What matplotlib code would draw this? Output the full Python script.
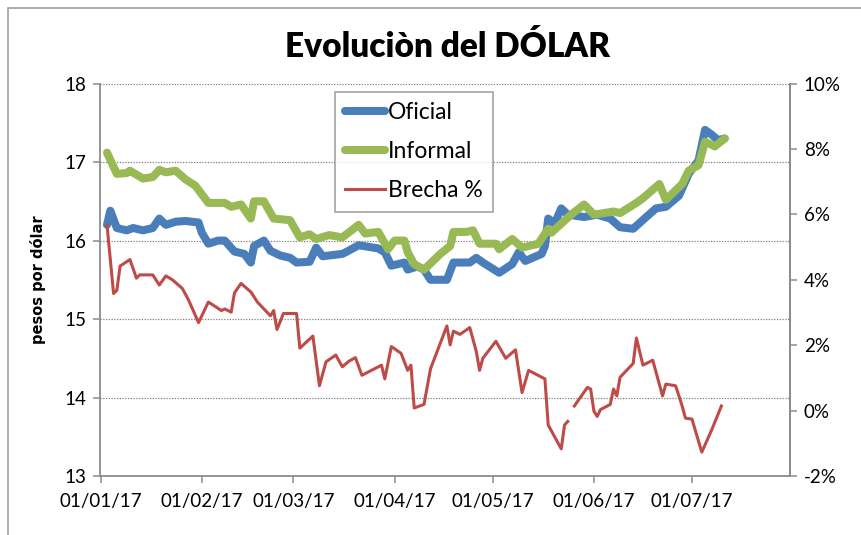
import matplotlib
matplotlib.use("Agg")
import matplotlib.pyplot as plt
import matplotlib.dates as mdates
from matplotlib.patches import Rectangle
import pandas as pd
import numpy as np

# ---------------- data ----------------
oficial_dates = ["2017-01-03", "2017-01-04", "2017-01-06", "2017-01-09", "2017-01-11", "2017-01-14",
                 "2017-01-17", "2017-01-19", "2017-01-21", "2017-01-24", "2017-01-27", "2017-01-31",
                 "2017-02-01", "2017-02-03", "2017-02-06", "2017-02-08", "2017-02-11", "2017-02-14",
                 "2017-02-16", "2017-02-17", "2017-02-20", "2017-02-22", "2017-02-25", "2017-02-28",
                 "2017-03-02", "2017-03-06", "2017-03-08", "2017-03-10", "2017-03-16", "2017-03-17",
                 "2017-03-21", "2017-03-27", "2017-03-29", "2017-03-31", "2017-04-04", "2017-04-05",
                 "2017-04-08", "2017-04-10", "2017-04-12", "2017-04-17", "2017-04-19", "2017-04-24",
                 "2017-04-26", "2017-04-28", "2017-05-03", "2017-05-07", "2017-05-09", "2017-05-11",
                 "2017-05-16", "2017-05-17", "2017-05-18", "2017-05-20", "2017-05-22", "2017-05-24",
                 "2017-05-29", "2017-06-02", "2017-06-06", "2017-06-09", "2017-06-13", "2017-06-17",
                 "2017-06-20", "2017-06-23", "2017-06-27", "2017-06-30", "2017-07-03", "2017-07-05",
                 "2017-07-07", "2017-07-09", "2017-07-11"]
oficial = [16.20, 16.38, 16.16, 16.13, 16.16, 16.13,
           16.16, 16.28, 16.20, 16.24, 16.25, 16.23,
           16.10, 15.96, 16.00, 16.00, 15.86, 15.83,
           15.72, 15.93, 16.00, 15.87, 15.81, 15.78,
           15.72, 15.73, 15.91, 15.80, 15.83, 15.85,
           15.94, 15.90, 15.85, 15.68, 15.72, 15.63,
           15.67, 15.63, 15.50, 15.50, 15.72, 15.72,
           15.78, 15.72, 15.59, 15.70, 15.85, 15.74,
           15.83, 15.93, 16.28, 16.22, 16.41, 16.33,
           16.30, 16.33, 16.28, 16.17, 16.15, 16.30,
           16.41, 16.43, 16.57, 16.85, 17.02, 17.41,
           17.35, 17.28, 17.30]

informal_dates = ["2017-01-03", "2017-01-06", "2017-01-09", "2017-01-10", "2017-01-14", "2017-01-17",
                  "2017-01-19", "2017-01-21", "2017-01-24", "2017-01-27", "2017-01-30", "2017-02-01",
                  "2017-02-03", "2017-02-08", "2017-02-10", "2017-02-13", "2017-02-16", "2017-02-17",
                  "2017-02-20", "2017-02-23", "2017-02-28", "2017-03-03", "2017-03-06", "2017-03-08",
                  "2017-03-12", "2017-03-16", "2017-03-21", "2017-03-23", "2017-03-27", "2017-03-30",
                  "2017-04-01", "2017-04-04", "2017-04-05", "2017-04-07", "2017-04-10", "2017-04-15",
                  "2017-04-18", "2017-04-19", "2017-04-23", "2017-04-25", "2017-04-27", "2017-05-02",
                  "2017-05-03", "2017-05-07", "2017-05-10", "2017-05-15", "2017-05-18", "2017-05-19",
                  "2017-05-25", "2017-05-29", "2017-06-01", "2017-06-07", "2017-06-09", "2017-06-14",
                  "2017-06-16", "2017-06-21", "2017-06-23", "2017-06-28", "2017-06-30", "2017-07-03",
                  "2017-07-05", "2017-07-08", "2017-07-11"]
informal = [17.12, 16.85, 16.86, 16.89, 16.79, 16.81,
            16.90, 16.87, 16.89, 16.78, 16.70, 16.59,
            16.48, 16.48, 16.43, 16.46, 16.28, 16.50,
            16.50, 16.28, 16.26, 16.04, 16.08, 16.02,
            16.07, 16.04, 16.20, 16.09, 16.11, 15.89,
            16.00, 16.00, 15.85, 15.70, 15.63, 15.83,
            15.93, 16.11, 16.11, 16.13, 15.96, 15.96,
            15.89, 16.02, 15.91, 15.96, 16.15, 16.10,
            16.33, 16.46, 16.33, 16.37, 16.35, 16.48,
            16.54, 16.72, 16.52, 16.72, 16.89, 16.96,
            17.26, 17.20, 17.30]

brecha_dates = ["2017-01-03", "2017-01-05", "2017-01-06", "2017-01-07", "2017-01-10", "2017-01-12",
                "2017-01-13", "2017-01-17", "2017-01-19", "2017-01-21", "2017-01-23", "2017-01-26",
                "2017-01-27", "2017-01-28", "2017-01-31", "2017-02-02", "2017-02-03", "2017-02-07",
                "2017-02-08", "2017-02-10", "2017-02-11", "2017-02-13", "2017-02-16", "2017-02-18",
                "2017-02-22", "2017-02-23", "2017-02-24", "2017-02-26", "2017-03-02", "2017-03-03",
                "2017-03-07", "2017-03-09", "2017-03-11", "2017-03-14", "2017-03-16", "2017-03-18",
                "2017-03-20", "2017-03-22", "2017-03-28", "2017-03-29", "2017-03-31", "2017-04-03",
                "2017-04-05", "2017-04-06", "2017-04-07", "2017-04-10", "2017-04-12", "2017-04-17",
                "2017-04-18", "2017-04-19", "2017-04-21", "2017-04-24", "2017-04-26", "2017-04-27",
                "2017-04-28", "2017-05-02", "2017-05-05", "2017-05-08", "2017-05-10", "2017-05-12",
                "2017-05-17", "2017-05-18", "2017-05-22", "2017-05-23", "2017-05-24", "2017-05-25",
                "2017-05-26", "2017-05-30", "2017-05-31", "2017-06-01", "2017-06-02", "2017-06-03",
                "2017-06-06", "2017-06-07", "2017-06-08", "2017-06-09", "2017-06-13", "2017-06-14",
                "2017-06-16", "2017-06-19", "2017-06-22", "2017-06-23", "2017-06-26", "2017-06-28",
                "2017-06-29", "2017-07-01", "2017-07-04", "2017-07-07", "2017-07-10"]
brecha = [5.67, 3.58, 3.68, 4.42, 4.62, 4.05,
          4.15, 4.15, 3.84, 4.12, 4.00, 3.74,
          3.56, 3.37, 2.69, 3.11, 3.32, 3.06,
          3.11, 3.01, 3.60, 3.89, 3.63, 3.32,
          2.90, 3.06, 2.48, 2.97, 2.97, 1.91,
          2.28, 0.76, 1.49, 1.70, 1.34, 1.51,
          1.62, 1.08, 1.39, 0.97, 1.96, 1.75,
          1.23, 1.39, 0.08, 0.19, 1.28, 2.59,
          2.01, 2.43, 2.33, 2.54, 1.81, 1.23,
          1.60, 2.12, 1.60, 1.86, 0.55, 1.23,
          0.97, -0.44, -1.17, -0.44, -0.33, np.nan,
          0.14, 0.71, 0.66, -0.02, -0.18, 0.03,
          0.19, 0.66, 0.45, 1.02, 1.44, 2.22,
          1.39, 1.54, 0.45, 0.81, 0.76, 0.14,
          -0.23, -0.26, -1.27, -0.60, 0.14]

x_ticks = ["2017-01-01", "2017-02-01", "2017-03-01", "2017-04-01", "2017-05-01", "2017-06-01", "2017-07-01"]
left_ticks = [13, 14, 15, 16, 17, 18]
right_ticks = [-2, 0, 2, 4, 6, 8, 10]

title = "Evoluciòn del DÓLAR"
ylabel = "pesos por dólar"
series_names = ["Oficial", "Informal", "Brecha %"]

# ---------------- style ----------------
W, H = 862, 535
FONT = ["Lato", "DejaVu Sans"]
plt.rcParams['font.family'] = FONT
BLUE = "#4A7EBB"
GREEN = "#98B954"
RED = "#BE4B48"
AXC = "#8C8C8C"

fig = plt.figure(figsize=(W / 100, H / 100), dpi=100)
L, R, T, B = 100.5, 790, 83.6, 476
ax = fig.add_axes([L / W, 1 - B / H, (R - L) / W, (B - T) / H])
ax2 = ax.twinx()

od = pd.to_datetime(oficial_dates)
idt = pd.to_datetime(informal_dates)
bd = pd.to_datetime(brecha_dates)

l1, = ax.plot(od, oficial, color=BLUE, lw=5.8, solid_capstyle="round", solid_joinstyle="round", zorder=3)
l2, = ax.plot(idt, informal, color=GREEN, lw=5.8, solid_capstyle="round", solid_joinstyle="round", zorder=4)
l3, = ax2.plot(bd, brecha, color=RED, lw=2.2, solid_joinstyle="round", zorder=3)

ax.set_ylim(13, 18)
ax2.set_ylim(-2, 10)
ax.set_xlim(pd.Timestamp("2017-01-01"), pd.Timestamp("2017-07-31"))
ax.set_yticks(left_ticks)
ax2.set_yticks(right_ticks)
ax2.set_yticklabels([f"{v}%" for v in right_ticks])
ax.set_xticks(pd.to_datetime(x_ticks))
ax.xaxis.set_major_formatter(mdates.DateFormatter("%d/%m/%y"))

ax.grid(axis="y", color="#7F7F7F", linestyle=(0, (1, 1.2)), lw=0.9)
ax.grid(axis="x", visible=False)
ax.set_axisbelow(True)

for a in (ax, ax2):
    a.spines["top"].set_visible(False)
    for s in ("left", "right", "bottom"):
        a.spines[s].set_color(AXC)
        a.spines[s].set_linewidth(1.3)
ax2.spines["left"].set_visible(False)
ax2.spines["bottom"].set_visible(False)

ax.tick_params(axis="both", direction="out", length=5, width=1.1, color=AXC,
               labelsize=13.5, labelcolor="black")
ax.tick_params(axis="x", pad=7)
ax.tick_params(axis="y", pad=5)
ax2.tick_params(axis="y", direction="out", length=5, width=1.1, color=AXC,
                labelsize=13.5, labelcolor="black", pad=5)
for lab in ax.get_xticklabels() + ax.get_yticklabels() + ax2.get_yticklabels():
    lab.set_family(FONT)

fig.text(448 / W, 1 - 47 / H, title, ha="center", va="center", fontsize=24,
         fontweight="heavy", family=FONT)
fig.text(38 / W, 1 - 280 / H, ylabel, ha="center", va="center", rotation=90,
         fontsize=10.5, fontweight="bold", family=["DejaVu Sans"])

leg = ax2.legend([l1, l2, l3], series_names, loc="upper left",
                 bbox_to_anchor=(335 / W, 1 - 91.5 / H), bbox_transform=fig.transFigure,
                 fontsize=16.5, frameon=True, fancybox=False, handlelength=1.75,
                 handletextpad=0.12, labelspacing=0.8, borderpad=0.45, borderaxespad=0)
leg.get_frame().set_edgecolor("#8C8C8C")
leg.get_frame().set_linewidth(1.2)
for t in leg.get_texts():
    t.set_family(FONT)

# chart-area border
fig.add_artist(Rectangle((8 / W, -0.05), 1.2, (H - 7.5) / H + 0.05, transform=fig.transFigure,
                         fill=False, edgecolor="#A0A0A0", lw=1.2))

fig.savefig("out.png", dpi=100)
